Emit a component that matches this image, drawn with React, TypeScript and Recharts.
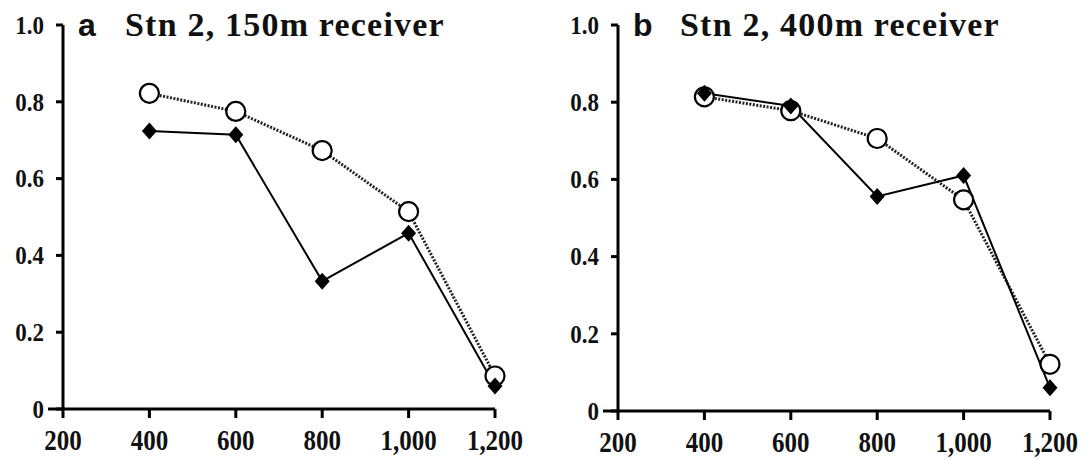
import { LineChart, Line, XAxis, YAxis } from "recharts";

const distances = [400, 600, 800, 1000, 1200];
const xTicks = [200, 400, 600, 800, 1000, 1200];
const yTicks = [0, 0.2, 0.4, 0.6, 0.8, 1.0];

// panel a — 150m receiver
const aDiamond = [0.724, 0.714, 0.333, 0.458, 0.06];
const aCircle = [0.822, 0.775, 0.673, 0.514, 0.086];

// panel b — 400m receiver
const bDiamond = [0.823, 0.79, 0.556, 0.61, 0.06];
const bCircle = [0.814, 0.778, 0.706, 0.547, 0.121];

const serif = "'Liberation Serif', 'Times New Roman', serif";

const toRows = (d: number[], c: number[]) =>
    distances.map((x, i) => ({ x, diamond: d[i], circle: c[i] }));

function Diamond(props: any) {
    const { cx, cy } = props;
    if (cx == null || cy == null) return null;
    return (
        <path
            d={`M${cx},${cy - 8.5} L${cx + 7.5},${cy} L${cx},${cy + 8.5} L${cx - 7.5},${cy} Z`}
            fill="#000"
        />
    );
}

function Circle(props: any) {
    const { cx, cy } = props;
    if (cx == null || cy == null) return null;
    return <circle cx={cx} cy={cy} r={9.5} fill="#fff" stroke="#000" strokeWidth={2.2} />;
}

function YTick(props: any) {
    const { x, y, payload } = props;
    const v = payload.value;
    const label = v === 0 ? "0" : v.toFixed(1);
    return (
        <g>
            {v === 0 && (
                <line x1={x + 4} x2={x + 20} y1={y} y2={y} stroke="#000" strokeWidth={3} />
            )}
            <text
                x={0}
                y={0}
                dy="0.35em"
                textAnchor="end"
                fontFamily={serif}
                fontWeight="bold"
                fontSize={23}
                fill="#111"
                transform={`translate(${x},${y}) scale(1,1.1)`}
            >
                {label}
            </text>
        </g>
    );
}

function XTick(props: any) {
    const { x, y, payload } = props;
    return (
        <text
            x={0}
            y={0}
            dy="0.72em"
            textAnchor="middle"
            fontFamily={serif}
            fontWeight="bold"
            fontSize={25}
            fill="#111"
            transform={`translate(${x},${y}) scale(1,1.18)`}
        >
            {payload.value.toLocaleString("en-US")}
        </text>
    );
}

function Panel({
    letter,
    title,
    rows,
    width,
    marginLeft,
    marginRight,
    marginBottom,
}: {
    letter: string;
    title: string;
    rows: { x: number; diamond: number; circle: number }[];
    width: number;
    marginLeft: number;
    marginRight: number;
    marginBottom: number;
}) {
    const plotLeft = marginLeft + 50;
    return (
        <div style={{ position: "relative", width, height: 461 }}>
            <LineChart
                width={width}
                height={461}
                data={rows}
                margin={{ top: 25, right: marginRight, left: marginLeft, bottom: marginBottom }}
            >
                <XAxis
                    dataKey="x"
                    type="number"
                    domain={[200, 1200]}
                    ticks={xTicks}
                    tick={<XTick />}
                    tickSize={9}
                    tickMargin={11}
                    height={45}
                    stroke="#000"
                    strokeWidth={3}
                />
                <YAxis
                    type="number"
                    domain={[0, 1]}
                    ticks={yTicks}
                    tick={<YTick />}
                    tickSize={7}
                    tickMargin={12}
                    width={50}
                    stroke="#000"
                    strokeWidth={3}
                />
                <Line
                    dataKey="circle"
                    stroke="#222"
                    strokeWidth={3}
                    strokeDasharray="2 1.5"
                    dot={<Circle />}
                    isAnimationActive={false}
                />
                <Line
                    dataKey="diamond"
                    stroke="#000"
                    strokeWidth={2}
                    dot={<Diamond />}
                    isAnimationActive={false}
                />
            </LineChart>
            <div
                style={{
                    position: "absolute",
                    left: plotLeft + 15,
                    top: 9,
                    fontFamily: "'Liberation Sans', Arial, sans-serif",
                    fontWeight: "bold",
                    fontSize: 32,
                    lineHeight: 1,
                    color: "#111",
                }}
            >
                {letter}
            </div>
            <div
                style={{
                    position: "absolute",
                    left: plotLeft + 62,
                    top: 8,
                    fontFamily: serif,
                    fontWeight: "bold",
                    fontSize: 34,
                    letterSpacing: 1.2,
                    lineHeight: 1,
                    whiteSpace: "nowrap",
                    color: "#111",
                }}
            >
                {title}
            </div>
        </div>
    );
}

export default function App() {
    return (
        <div
            style={{
                position: "absolute",
                left: 0,
                top: 0,
                width: 1091,
                height: 461,
                display: "flex",
                background: "#fff",
            }}
        >
            <Panel
                letter="a"
                title="Stn 2, 150m receiver"
                rows={toRows(aDiamond, aCircle)}
                width={545}
                marginLeft={13}
                marginRight={50}
                marginBottom={7}
            />
            <Panel
                letter="b"
                title="Stn 2, 400m receiver"
                rows={toRows(bDiamond, bCircle)}
                width={546}
                marginLeft={23}
                marginRight={41}
                marginBottom={5}
            />
        </div>
    );
}
